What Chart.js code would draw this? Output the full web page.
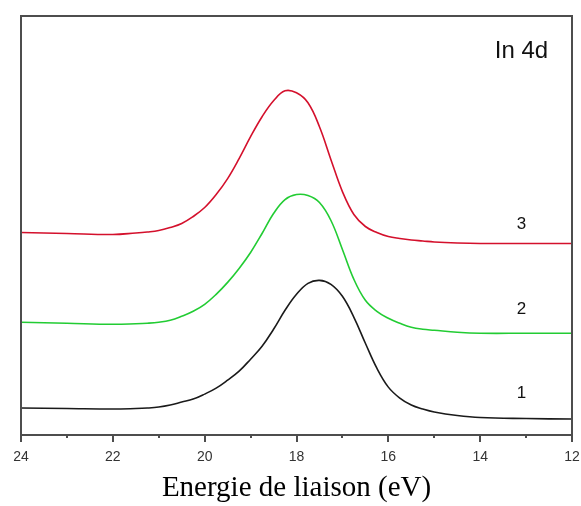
<!DOCTYPE html>
<html>
<head>
<meta charset="utf-8">
<script src="https://cdn.jsdelivr.net/npm/chart.js@4.4.1/dist/chart.umd.min.js"></script>
<style>
    html, body { margin: 0; padding: 0; background: #fff; }
    #wrap { width: 581px; height: 506px; }
</style>
</head>
<body>
<div id="wrap"><canvas id="xpsChart" width="581" height="506"></canvas></div>
<script>
// binding energies (eV), shared by the three spectra
const energies = [24, 23, 22, 21.5, 21.25,
    21, 20.75, 20.5, 20.25, 20, 19.75, 19.5, 19.25, 19, 18.75, 18.5, 18.25, 18,
    17.75, 17.5, 17.25, 17, 16.75, 16.5, 16.25, 16, 15.75, 15.5, 15.25, 15,
    14.5, 14, 13, 12];

// intensities (arbitrary units, stacked offsets as in the figure)
const spectrum1 = [27, 26.5, 26, 26.5, 27,
    28, 30, 33, 36, 41, 47, 55, 64, 76, 89, 106, 125, 141,
    152, 155, 151, 139, 118, 92, 67, 48, 37, 30, 26, 23,
    19.5, 17.5, 16.5, 16];
const spectrum2 = [113, 112, 111, 111.5, 112,
    113, 115, 119, 124, 131, 141, 153, 167, 183, 202, 222, 236, 241,
    240, 233, 215, 186, 156, 135, 124, 117, 112, 108, 106, 105,
    103, 102, 102, 102];
const spectrum3 = [203, 202, 201, 202.5, 203.5,
    205, 208, 212, 219, 228, 241, 257, 277, 299, 319, 335, 345, 343,
    333, 309, 276, 244, 221, 209, 203, 199, 197, 195.5, 194.5, 193.5,
    192.5, 192, 192, 192];

const seriesNames = ['1', '2', '3'];
const tickValues = [24, 22, 20, 18, 16, 14, 12];
const minorTickValues = [23, 21, 19, 17, 15, 13];

const toPoints = (vals) => energies.map((e, i) => ({ x: e, y: vals[i] }));

// frame, outward ticks and in-plot labels
const decorPlugin = {
    id: 'decor',
    afterDatasetsDraw(chart) {
        const { ctx, chartArea: a, scales } = chart;
        const xs = scales.x, ys = scales.y;
        ctx.save();
        ctx.strokeStyle = '#4d4d4d';
        ctx.lineWidth = 2;
        ctx.strokeRect(a.left, a.top, a.right - a.left, a.bottom - a.top);

        ctx.beginPath();
        tickValues.forEach(v => {
            const px = Math.round(xs.getPixelForValue(v));
            ctx.moveTo(px, a.bottom);
            ctx.lineTo(px, a.bottom + 7);
        });
        minorTickValues.forEach(v => {
            const px = Math.round(xs.getPixelForValue(v));
            ctx.moveTo(px, a.bottom);
            ctx.lineTo(px, a.bottom + 3);
        });
        ctx.stroke();

        ctx.fillStyle = '#111';
        ctx.textAlign = 'center';
        ctx.textBaseline = 'middle';
        ctx.font = '17px "Liberation Sans", Arial, sans-serif';
        const labelX = xs.getPixelForValue(13.1);
        const labelY = [42, 126, 211];
        seriesNames.forEach((name, i) => {
            ctx.fillText(name, labelX, ys.getPixelForValue(labelY[i]));
        });
        ctx.font = '24px "Liberation Sans", Arial, sans-serif';
        ctx.fillText('In 4d', labelX, ys.getPixelForValue(385));
        ctx.restore();
    }
};

const lineStyle = {
    borderWidth: 1.6,
    pointRadius: 0,
    fill: false,
    tension: 0.4
};

new Chart(document.getElementById('xpsChart').getContext('2d'), {
    type: 'line',
    data: {
        datasets: [
            { label: seriesNames[0], data: toPoints(spectrum1), borderColor: '#1a1a1a', ...lineStyle },
            { label: seriesNames[1], data: toPoints(spectrum2), borderColor: '#22cc33', ...lineStyle },
            { label: seriesNames[2], data: toPoints(spectrum3), borderColor: '#d4102c', ...lineStyle }
        ]
    },
    options: {
        responsive: false,
        animation: false,
        layout: { padding: { left: 21, right: 9, top: 16, bottom: 0 } },
        plugins: {
            legend: { display: false },
            tooltip: { enabled: false }
        },
        scales: {
            x: {
                type: 'linear',
                reverse: true,
                min: 12,
                max: 24,
                grid: { display: false, drawTicks: false },
                border: { display: false },
                ticks: {
                    stepSize: 1,
                    padding: 14,
                    color: '#333',
                    font: { family: '"Liberation Sans", Arial, sans-serif', size: 14 },
                    callback: (v) => tickValues.includes(v) ? String(v) : ''
                },
                title: {
                    display: true,
                    text: 'Energie de liaison (eV)',
                    color: '#000',
                    font: { family: '"Liberation Serif", "Times New Roman", serif', size: 29 },
                    padding: { top: 0, bottom: 0 }
                },
                afterFit: (scale) => {
                    scale.height = 71;
                    scale.paddingLeft = 0;
                    scale.paddingRight = 0;
                }
            },
            y: {
                display: false,
                min: 0,
                max: 420
            }
        }
    },
    plugins: [decorPlugin]
});
</script>
</body>
</html>
